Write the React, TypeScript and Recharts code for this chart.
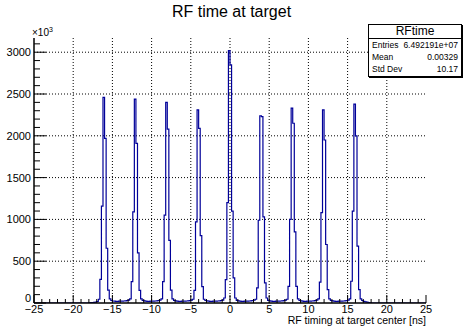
import { LineChart, Line, XAxis, YAxis, ReferenceLine } from "recharts";

// RF time at target: counts (×10³) per 0.2 ns bin, one row per 4 ns RF bucket.
const BIN_WIDTH = 0.2;
const FIRST_EDGE = -18;
const LAST_EDGE = 18;

const bucketM16 = [2, 4, 6, 8, 12, 18, 45, 283, 1160, 2460, 1970, 655, 155, 50, 30, 24, 22, 20, 20, 22];
const bucketM12 = [22, 22, 24, 26, 30, 35, 50, 255, 1090, 2440, 1910, 600, 150, 50, 30, 25, 22, 20, 20, 22];
const bucketM8 = [22, 22, 24, 26, 30, 35, 50, 255, 1050, 2400, 2080, 750, 155, 50, 30, 25, 22, 20, 20, 22];
const bucketM4 = [22, 22, 24, 26, 30, 35, 45, 150, 970, 2310, 2090, 805, 195, 45, 30, 25, 22, 20, 20, 22];
const bucket0 = [22, 22, 24, 26, 30, 35, 60, 280, 1200, 3020, 2850, 1100, 300, 60, 32, 25, 22, 20, 20, 22];
const bucketP4 = [22, 22, 24, 26, 30, 35, 45, 180, 990, 2240, 2230, 1030, 240, 60, 30, 25, 22, 20, 20, 22];
const bucketP8 = [22, 22, 24, 26, 30, 35, 45, 200, 1000, 2330, 2150, 850, 200, 50, 30, 25, 22, 20, 20, 22];
const bucketP12 = [22, 22, 24, 26, 30, 35, 50, 250, 1080, 2310, 1950, 700, 160, 50, 30, 25, 22, 20, 20, 22];
const bucketP16 = [22, 22, 24, 26, 30, 35, 50, 260, 1100, 2380, 2000, 680, 160, 50, 30, 20, 14, 10, 6, 3];

const counts = [
  ...bucketM16, ...bucketM12, ...bucketM8, ...bucketM4, ...bucket0,
  ...bucketP4, ...bucketP8, ...bucketP12, ...bucketP16,
];

const X_DOMAIN: [number, number] = [-25, 25];
const Y_DOMAIN: [number, number] = [0, 3170];
const xMajor = [-25, -20, -15, -10, -5, 0, 5, 10, 15, 20, 25];
const yMajor = [0, 500, 1000, 1500, 2000, 2500, 3000];
const xGrid = [-20, -15, -10, -5, 0, 5, 10, 15, 20];
const yGrid = [500, 1000, 1500, 2000, 2500, 3000];
const xTicks = Array.from({ length: 51 }, (_, i) => -25 + i);
const yTicks = Array.from({ length: 32 }, (_, i) => i * 100);

const stats = [
  { label: "Entries", value: "6.492191e+07" },
  { label: "Mean", value: "0.00329" },
  { label: "Std Dev", value: "10.17" },
];

const data = [
  { x: X_DOMAIN[0], y: 0 },
  ...counts.map((c, i) => ({ x: FIRST_EDGE + i * BIN_WIDTH, y: c })),
  { x: LAST_EDGE, y: 0 },
  { x: X_DOMAIN[1], y: 0 },
];

const FONT = "'Liberation Sans', Arial, Helvetica, sans-serif";
const fmt = (v: number) => (v < 0 ? `\u2212${-v}` : `${v}`);

function XTick({ x, y, payload }: any) {
  const v = payload.value;
  const major = xMajor.includes(v);
  return (
    <g>
      <line x1={x} x2={x} y1={y} y2={y - (major ? 8 : 4)} stroke="#000" />
      {major && (
        <text x={x} y={y + 10} textAnchor="middle" fontSize={11} fontFamily={FONT} fill="#000">
          {fmt(v)}
        </text>
      )}
    </g>
  );
}

function YTick({ x, y, payload }: any) {
  const v = payload.value;
  const major = yMajor.includes(v);
  return (
    <g>
      <line x1={x} x2={x + (major ? 12 : 6)} y1={y} y2={y} stroke="#000" />
      {major && (
        <text x={x - 3} y={y + (v === 0 ? -1 : 4)} textAnchor="end" fontSize={11} fontFamily={FONT} fill="#000">
          {v}
        </text>
      )}
    </g>
  );
}

export default function App() {
  return (
    <div style={{ position: "relative", width: 463, height: 326, background: "#fff", fontFamily: FONT }}>
      <style>{"body{margin:0}"}</style>
      <LineChart width={463} height={326} data={data} margin={{ top: 38, right: 37, bottom: 0, left: 0 }}>
        <XAxis
          dataKey="x"
          type="number"
          domain={X_DOMAIN}
          ticks={xTicks}
          interval={0}
          tickSize={0}
          tickMargin={0}
          tick={<XTick />}
          height={23}
          axisLine={{ stroke: "#000", strokeWidth: 1.5 }}
          allowDataOverflow
        />
        <XAxis xAxisId="top" orientation="top" type="number" domain={X_DOMAIN} tick={false} tickLine={false} height={0} axisLine={{ stroke: "#000" }} />
        <YAxis
          type="number"
          domain={Y_DOMAIN}
          ticks={yTicks}
          interval={0}
          tickSize={0}
          tickMargin={0}
          tick={<YTick />}
          width={34}
          axisLine={{ stroke: "#000", strokeWidth: 1.5 }}
          allowDataOverflow
        />
        <YAxis yAxisId="right" orientation="right" type="number" domain={Y_DOMAIN} tick={false} tickLine={false} width={0} axisLine={{ stroke: "#000" }} />
        {xGrid.map((v) => (
          <ReferenceLine key={`gx${v}`} x={v} stroke="#000" strokeDasharray="1 2" />
        ))}
        {yGrid.map((v) => (
          <ReferenceLine key={`gy${v}`} y={v} stroke="#000" strokeDasharray="1 2" />
        ))}
        <Line
          type="stepAfter"
          dataKey="y"
          stroke="#000099"
          strokeWidth={1.2}
          dot={false}
          isAnimationActive={false}
        />
      </LineChart>

      <div style={{ position: "absolute", left: 0, width: 463, top: 3, textAlign: "center", fontSize: 16 }}>
        RF time at target
      </div>
      <div style={{ position: "absolute", left: 32, top: 26, fontSize: 10 }}>
        ×10<sup style={{ fontSize: 7 }}>3</sup>
      </div>
      <div
        style={{
          position: "absolute",
          right: 37,
          top: 314,
          fontSize: 10.5,
          lineHeight: "12px",
          whiteSpace: "nowrap",
        }}
      >
        RF timing at target center [ns]
      </div>

      <div
        style={{
          position: "absolute",
          left: 368,
          top: 24,
          width: 92,
          height: 51,
          border: "1px solid #000",
          boxShadow: "1px 1px 0 #000",
          background: "#fff",
        }}
      >
        <div style={{ height: 13, borderBottom: "1px solid #000", textAlign: "center", fontSize: 12, lineHeight: "13px" }}>
          RFtime
        </div>
        {stats.map((s) => (
          <div key={s.label} style={{ display: "flex", justifyContent: "space-between", padding: "0 3px", height: 12, lineHeight: "12px", fontSize: 8.5 }}>
            <span>{s.label}</span>
            <span>{s.value}</span>
          </div>
        ))}
      </div>
    </div>
  );
}
